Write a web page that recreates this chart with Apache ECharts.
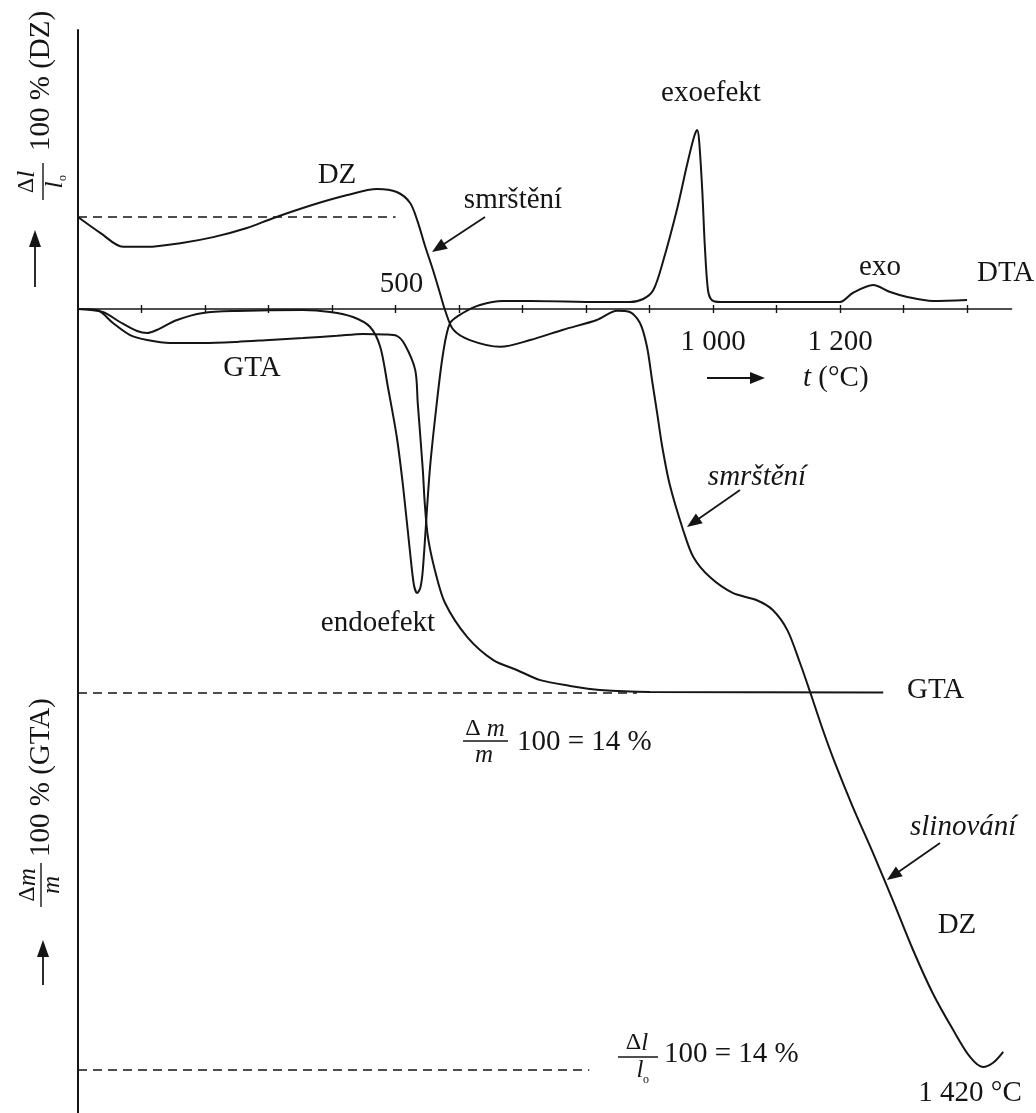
<!DOCTYPE html>
<html><head><meta charset="utf-8">
<script src="https://cdn.jsdelivr.net/npm/echarts@6/dist/echarts.min.js"></script>
<style>html,body{margin:0;padding:0;background:#fff}#c{width:1036px;height:1113px}</style>
</head><body><div id="c"></div>
<script>
// ---- data (temperature t in °C) ----
const tickValues = [100,200,300,400,500,600,700,800,900,1000,1100,1200,1300,1400];
const labelsAbove = [500];
const labelsBelow = [1000,1200];

// DTA (arbitrary units, exo up)
const dtaT = [0,39,66,93,109,124,156,197,250,354,397,433,460,476,488,502,512,523,529,534,539,543,554,565,575,586,606,633,669,712,822,869,890,906,921,943,959,970,975,978,983,987,992,998,1011,1137,1200,1220,1252,1279,1306,1346,1400];
const dtaV = [0,-0.3,-1.3,-2.2,-2.4,-2.1,-1.1,-0.4,-0.2,-0.1,-0.3,-0.8,-1.8,-3.8,-7.8,-12.8,-17.8,-24.4,-27.6,-28.4,-27.9,-26.1,-16.1,-9.4,-4.4,-1.4,-0.4,0.4,0.8,0.8,0.7,0.7,1.0,1.9,4.7,9.9,14.4,17.2,17.9,16.9,11.9,6.4,1.9,0.9,0.7,0.7,0.7,1.6,2.4,1.7,1.2,0.8,0.9];

// GTA (mass change, %)
const gtaT = [0,30,55,82,109,145,197,250,302,354,408,449,483,502,515,531,535,543,546,551,562,578,613,654,691,728,775,822,901,1268];
const gtaV = [0,-0.04,-0.51,-0.95,-1.13,-1.24,-1.24,-1.2,-1.13,-1.06,-0.98,-0.91,-0.93,-0.98,-1.31,-2.22,-3.43,-5.87,-7.07,-8.31,-9.52,-10.72,-11.96,-12.8,-13.16,-13.53,-13.74,-13.89,-13.96,-13.98];

// DZ (length change, %)
const dzT = [0,35,71,109,161,213,266,307,370,424,471,502,523,535,546,559,570,578,591,617,665,712,764,817,849,869,885,896,904,912,920,932,953,969,995,1031,1069,1094,1117,1137,1153,1173,1192,1220,1252,1283,1315,1346,1378,1405,1425,1441,1457];
const dzV = [0,-0.26,-0.49,-0.49,-0.43,-0.33,-0.18,-0.02,0.2,0.36,0.46,0.41,0.23,-0.08,-0.46,-0.87,-1.25,-1.53,-1.85,-2.02,-2.13,-2.02,-1.85,-1.69,-1.54,-1.56,-1.74,-2.13,-2.68,-3.22,-3.77,-4.4,-5.14,-5.58,-5.91,-6.17,-6.29,-6.45,-6.78,-7.32,-7.8,-8.42,-8.96,-9.68,-10.44,-11.21,-12.03,-12.74,-13.34,-13.79,-13.95,-13.88,-13.7];

// reference (dashed) lines
const dzZeroT = [0,500],   dzZeroV = [0,0];
const gtaLossT = [0,880],  gtaLossV = [-14,-14];
const dzShrinkT = [0,805], dzShrinkV = [-14,-14];

// ---- chart ----
const zip = (a,b) => a.map((v,i) => [v,b[i]]);
const F = "'Liberation Serif','Times New Roman',serif";
const INK = '#151515';
const fnt = (s, it) => (it ? 'italic ' : '') + s + 'px ' + F;

function txt(text, x, y, size, o) {
  o = o || {};
  return {type:'text', x:x, y:y, silent:true, z:10,
    style:{text:text, font:fnt(size, o.italic), fill:INK,
      align:o.align||'center', verticalAlign:o.va||'middle', rich:o.rich}};
}
function arrow(x1,y1,x2,y2,hl,hw){
  hl = hl||15; hw = hw||6;
  const dx=x2-x1, dy=y2-y1, L=Math.hypot(dx,dy), ux=dx/L, uy=dy/L;
  const bx=x2-ux*hl, by=y2-uy*hl;
  return [
    {type:'line', silent:true, z:10, shape:{x1:x1,y1:y1,x2:bx+ux*2,y2:by+uy*2}, style:{stroke:INK,lineWidth:1.8}},
    {type:'polygon', silent:true, z:10, shape:{points:[[x2,y2],[bx-uy*hw,by+ux*hw],[bx+uy*hw,by-ux*hw]]}, style:{fill:INK}}
  ];
}
function bar(x1,y1,x2,y2){ return {type:'line', silent:true, z:10, shape:{x1:x1,y1:y1,x2:x2,y2:y2}, style:{stroke:INK,lineWidth:1.4}}; }

const rich24 = {u:{font:fnt(24)}, i:{font:fnt(25,true)}};

const graphics = [
  txt('DZ', 337, 175, 29),
  txt('smrštění', 513, 200, 29),
  txt('exoefekt', 711, 93, 29),
  txt('exo', 880, 267, 29),
  txt('DTA', 977, 273, 29, {align:'left'}),
  txt('GTA', 252, 368, 29),
  txt('endoefekt', 378, 623, 29),
  txt('{i|t} (°C)', 803, 378, 29, {align:'left', rich:{i:{font:fnt(29,true)}}}),
  txt('smrštění', 757, 477, 29, {italic:true}),
  txt('GTA', 907, 690, 29, {align:'left'}),
  txt('slinování', 910, 827, 29, {italic:true, align:'left'}),
  txt('DZ', 957, 925, 29),
  txt('1 420 °C', 970, 1093, 29),
  // Δm/m 100 = 14 %
  txt('{u|Δ} {i|m}', 485, 729, 24, {rich:rich24}),
  bar(463, 741, 508, 741),
  txt('{i|m}', 484, 755, 24, {rich:rich24}),
  txt('100 = 14 %', 517, 742, 29, {align:'left'}),
  // Δl/l0 100 = 14 %
  txt('{u|Δ}{i|l}', 637, 1043, 24, {rich:rich24}),
  bar(618, 1057, 658, 1057),
  txt('{i|l}', 640, 1070, 24, {rich:rich24}),
  txt('o', 646, 1080, 12),
  txt('100 = 14 %', 664, 1054, 29, {align:'left'}),
  // rotated y labels
  {type:'group', x:41, y:200, rotation:Math.PI/2, children:[
    txt('{u|Δ}{i|l}', 18, -14, 24, {rich:rich24}),
    bar(0, 2, 37, 2),
    txt('{i|l}', 15, 14, 24, {rich:rich24}),
    txt('o', 22, 22, 12),
    txt('100 % (DZ)', 49, 0, 29, {align:'left'})
  ]},
  {type:'group', x:41, y:907, rotation:Math.PI/2, children:[
    txt('{u|Δ}{i|m}', 22, -13, 24, {rich:rich24}),
    bar(0, 0, 44, 0),
    txt('{i|m}', 22, 11, 24, {rich:rich24}),
    txt('100 % (GTA)', 50, 0, 29, {align:'left'})
  ]}
].concat(
  arrow(485,217,432,252),
  arrow(740,490,687,527),
  arrow(940,843,887,880),
  arrow(707,378,765,378),
  arrow(35,287,35,230,17,6),
  arrow(43,985,43,940,17,6)
);

const lineBase = {type:'line', showSymbol:false, symbol:'none', silent:true, smooth:0.3,
  lineStyle:{color:INK, width:2}, z:3};
const dashBase = {type:'line', showSymbol:false, symbol:'none', silent:true,
  lineStyle:{color:INK, width:1.6, type:[9,6]}, z:2};

const fmt = v => { const s = String(v); return v >= 1000 ? s.slice(0,-3) + ' ' + s.slice(-3) : s; };

// grid: top 30 -> bottom 1113 ; baseline (value 0 of axis 0) sits at y = 309
const option = {
  backgroundColor:'#ffffff',
  animation:false,
  grid:{left:78, top:30, width:933.5, bottom:0, containLabel:false, outerBoundsMode:'none'},
  xAxis:[
    {type:'value', min:0, max:1470, interval:100, position:'bottom', offset:-804,
     axisLine:{show:true, onZero:false, lineStyle:{color:INK, width:1.6}},
     axisTick:{show:true, inside:false, length:4, customValues:tickValues, lineStyle:{color:INK, width:1.4}},
     axisLabel:{show:true, customValues:labelsBelow, formatter:fmt, margin:19, color:INK, fontSize:29, fontFamily:F},
     splitLine:{show:false}},
    {type:'value', min:0, max:1470, interval:100, position:'top', offset:-279,
     axisLine:{show:false, onZero:false},
     axisTick:{show:true, inside:false, length:4, customValues:tickValues, lineStyle:{color:INK, width:1.4}},
     axisLabel:{show:true, customValues:labelsAbove, formatter:fmt, margin:10, padding:[0,0,0,12], color:INK, fontSize:29, fontFamily:F},
     splitLine:{show:false}}
  ],
  yAxis:[
    {type:'value', min:-80.4, max:27.9, position:'left',
     axisLine:{show:true, onZero:false, lineStyle:{color:INK, width:2}},
     axisTick:{show:false}, axisLabel:{show:false}, splitLine:{show:false}},
    {type:'value', min:-29.31, max:10.17, show:false, splitLine:{show:false}},
    {type:'value', min:-14.705, max:3.069, show:false, splitLine:{show:false}}
  ],
  series:[
    Object.assign({}, dashBase, {name:'DZ 0', yAxisIndex:2, data:zip(dzZeroT, dzZeroV)}),
    Object.assign({}, dashBase, {name:'GTA 14 %', yAxisIndex:1, data:zip(gtaLossT, gtaLossV)}),
    Object.assign({}, dashBase, {name:'DZ 14 %', yAxisIndex:2, data:zip(dzShrinkT, dzShrinkV)}),
    Object.assign({}, lineBase, {name:'DTA', yAxisIndex:0, data:zip(dtaT, dtaV)}),
    Object.assign({}, lineBase, {name:'GTA', yAxisIndex:1, data:zip(gtaT, gtaV)}),
    Object.assign({}, lineBase, {name:'DZ', yAxisIndex:2, data:zip(dzT, dzV)})
  ],
  graphic:{elements:graphics}
};
const chart = echarts.init(document.getElementById('c'));
chart.setOption(option);
</script></body></html>
